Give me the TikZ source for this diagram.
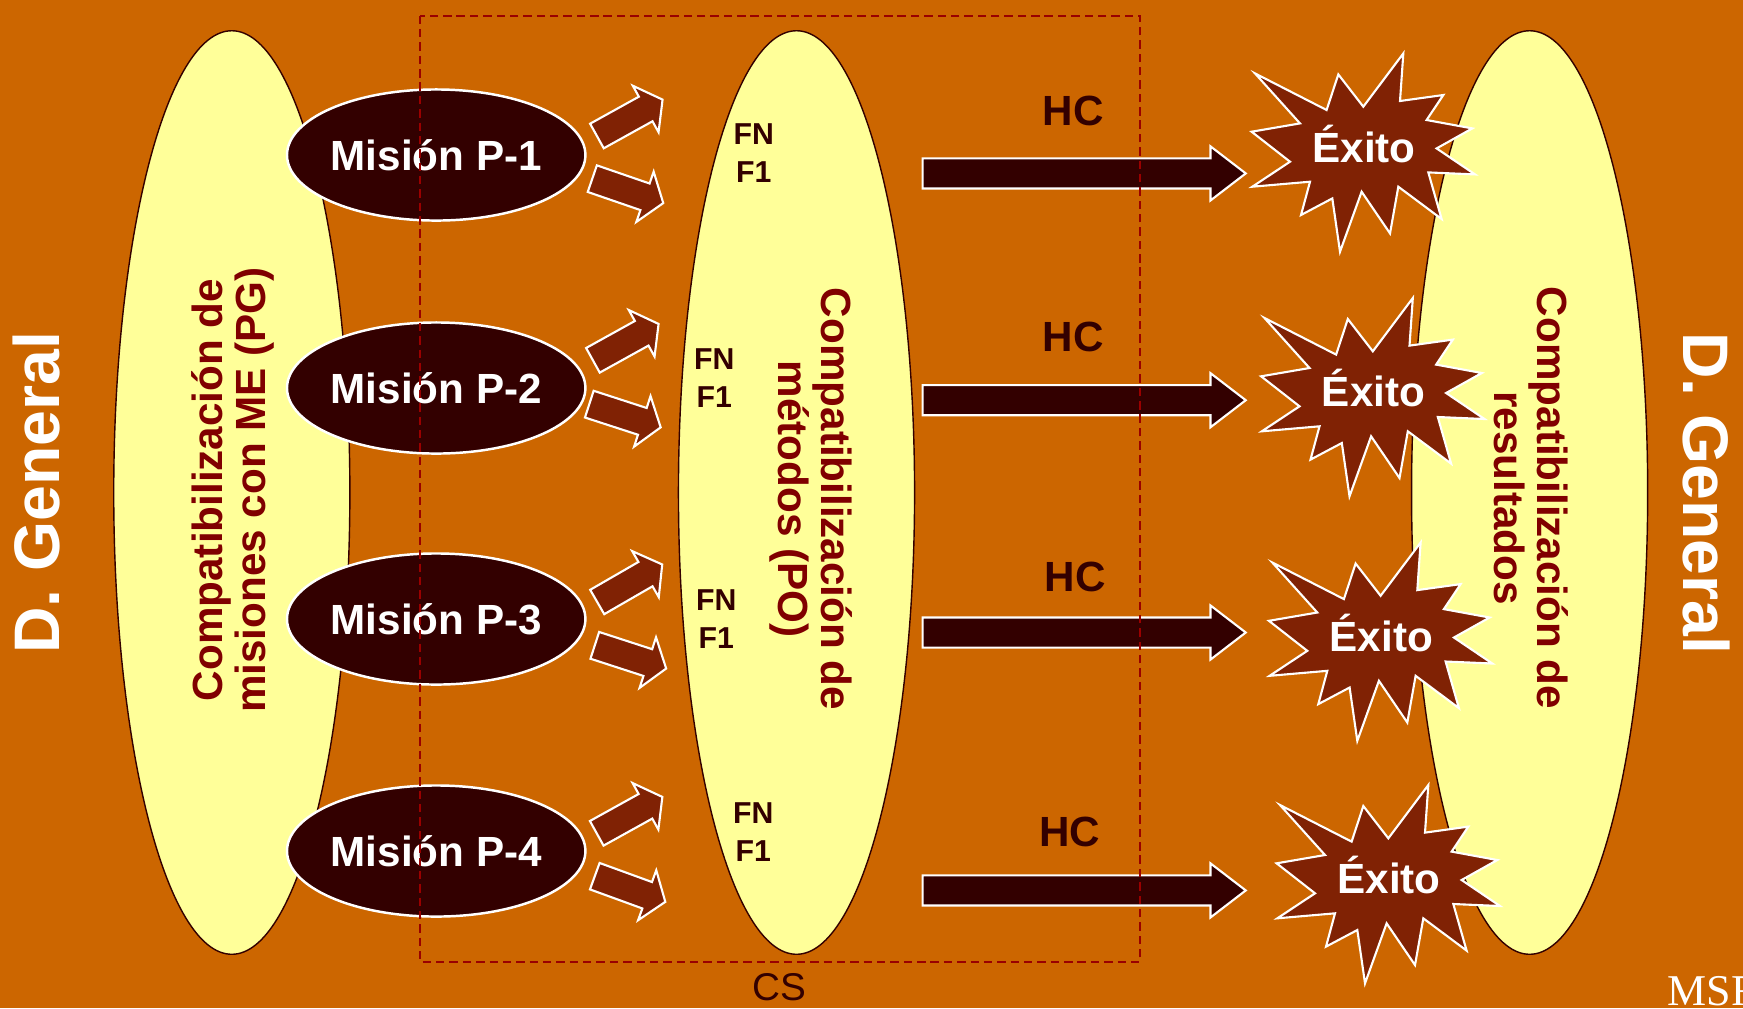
\documentclass[tikz,border=0pt]{standalone}
\usepackage{fontspec}
\setmainfont{Liberation Sans}
\newfontfamily\msffont{Liberation Serif}
\usetikzlibrary{shapes.geometric,shapes.arrows}

\definecolor{fondo}{RGB}{204,102,0}
\definecolor{crema}{RGB}{255,255,153}
\definecolor{oscuro}{RGB}{51,0,0}
\definecolor{ladrillo}{RGB}{128,34,4}
\definecolor{granate}{RGB}{128,0,0}
\definecolor{rayas}{RGB}{153,0,0}

\tikzset{
  bloque/.style={ellipse, draw=oscuro, line width=0.4pt, fill=crema, inner sep=0pt,
    minimum width=2.36cm, minimum height=9.23cm},
  mision/.style={ellipse, draw=white, line width=0.7pt, fill=oscuro, text=white, inner sep=0pt,
    minimum width=2.96cm, minimum height=1.31cm, font=\bfseries\fontsize{12}{14}\selectfont},
  flechita/.style={single arrow, draw=white, line width=0.6pt, fill=ladrillo,
    inner xsep=0pt, inner ysep=0.13cm, minimum height=0.75cm,
    single arrow head extend=0.125cm, single arrow tip angle=108, anchor=tail},
  flechon/.style={single arrow, draw=white, line width=0.6pt, fill=oscuro,
    inner xsep=0pt, inner ysep=0.14cm, minimum height=3.23cm,
    single arrow head extend=0.12cm, single arrow tip angle=75, anchor=tail},
  rotulo/.style={text=granate, align=center, font=\bfseries\fontsize{12}{12.3}\selectfont},
  fnlabel/.style={text=oscuro, align=center, font=\bfseries\fontsize{8.6}{10.9}\selectfont},
  hclabel/.style={text=oscuro, font=\bfseries\fontsize{12}{14}\selectfont},
  exitolabel/.style={text=white, font=\bfseries\fontsize{12}{14}\selectfont},
  lateral/.style={text=white, font=\bfseries\fontsize{18.3}{20}\selectfont},
  explosion/.pic={
    \draw[white, line width=0.6pt, fill=ladrillo] (40,-93.3) -- (36.7,-45.7) -- (80,-51.7)
      -- (63.3,-26.7) -- (109,-18.3) -- (73.3,1.7) -- (111.7,27.7) -- (65,25.7)
      -- (78.3,72.3) -- (35,40) -- (26.7,86.7) -- (-1.7,45) -- (-23.3,105)
      -- (-31,51.7) -- (-62.3,68.3) -- (-53.3,35) -- (-111,40) -- (-73.3,15)
      -- (-111.7,-15) -- (-63.3,-23.3) -- (-108.3,-73.3) -- (-36.7,-36.7)
      -- (-25,-72.3) -- (0,-40) -- cycle;
  }
}

\begin{document}
\begin{tikzpicture}[x=0.01cm, y=-0.01cm]
\useasboundingbox (0,0) rectangle (1743,1008);
\fill[fondo] (0,0) rectangle (1743,1008);

% big ellipses
\node[bloque] (pg) at (231.8,492.5) {};
\node[bloque] (po) at (796.5,492.5) {};
\node[bloque] (res) at (1529.6,492.5) {};

\node[lateral, rotate=90] (dgenl) at (36.7,492.5) {D. General};
\node[lateral, rotate=-90] (dgenr) at (1706,493) {D. General};

\node[rotulo, rotate=90] (pgtxt) at (233,490) {Compatibilización de\\misiones con ME (PG)};
\node[rotulo, rotate=-90] (potxt) at (811,499) {Compatibilización de\\métodos (PO)};
\node[rotulo, rotate=-90] (restxt) at (1531,498) {Compatibilización de\\resultados};

% missions
\node[mision] (m1) at (436.2,155) {Misión P-1};
\node[mision] (m2) at (436.2,388) {Misión P-2};
\node[mision] (m3) at (436.2,619) {Misión P-3};
\node[mision] (m4) at (436.2,851) {Misión P-4};

\node[flechita, rotate=29] (a1u) at (596,136.5) {};
\node[flechita, rotate=-19] (a1d) at (591.3,178.3) {};
\node[flechita, rotate=29] (a2u) at (592,360.8) {};
\node[flechita, rotate=-18] (a2d) at (588.3,403.8) {};
\node[flechita, rotate=30] (a3u) at (596.3,602.5) {};
\node[flechita, rotate=-18] (a3d) at (593.8,645) {};
\node[flechita, rotate=29] (a4u) at (595.8,833.8) {};
\node[flechita, rotate=-20] (a4d) at (593.8,875.8) {};

\node[fnlabel] (fn1) at (753.7,153) {FN\\F1};
\node[fnlabel] (fn2) at (714.2,378) {FN\\F1};
\node[fnlabel] (fn3) at (716.3,619) {FN\\F1};
\node[fnlabel] (fn4) at (753.3,832) {FN\\F1};

% HC arrows
\node[flechon] (b1) at (921.5,173.4) {};
\node[flechon] (b2) at (921.5,400.2) {};
\node[flechon] (b3) at (921.5,632.5) {};
\node[flechon] (b4) at (921.5,890.4) {};

\node[hclabel] (hc1) at (1073,111) {HC};
\node[hclabel] (hc2) at (1073,337) {HC};
\node[hclabel] (hc3) at (1075,577) {HC};
\node[hclabel] (hc4) at (1069.5,831.5) {HC};

% stars
\pic at (1363.3,146.7) {explosion};
\pic at (1372.8,391.3) {explosion};
\pic at (1380.6,635.8) {explosion};
\pic at (1388.3,878.3) {explosion};
\node[exitolabel] (ex1) at (1364,143.5) {Éxito};
\node[exitolabel] (ex2) at (1373.5,388) {Éxito};
\node[exitolabel] (ex3) at (1381.3,632.5) {Éxito};
\node[exitolabel] (ex4) at (1389,875) {Éxito};

% CS frame
\draw[rayas, line width=0.6pt, dash pattern=on 2.4pt off 1.4pt] (420,15.6) rectangle (1140,961.7);
\node[text=oscuro, font=\fontsize{11}{13}\selectfont] (cs) at (779,987.5) {CS};
\node[text=white, anchor=base west, inner sep=0pt, font=\msffont\fontsize{12.5}{15}\selectfont] (msf) at (1667,1005) {MSF};
\end{tikzpicture}
\end{document}
